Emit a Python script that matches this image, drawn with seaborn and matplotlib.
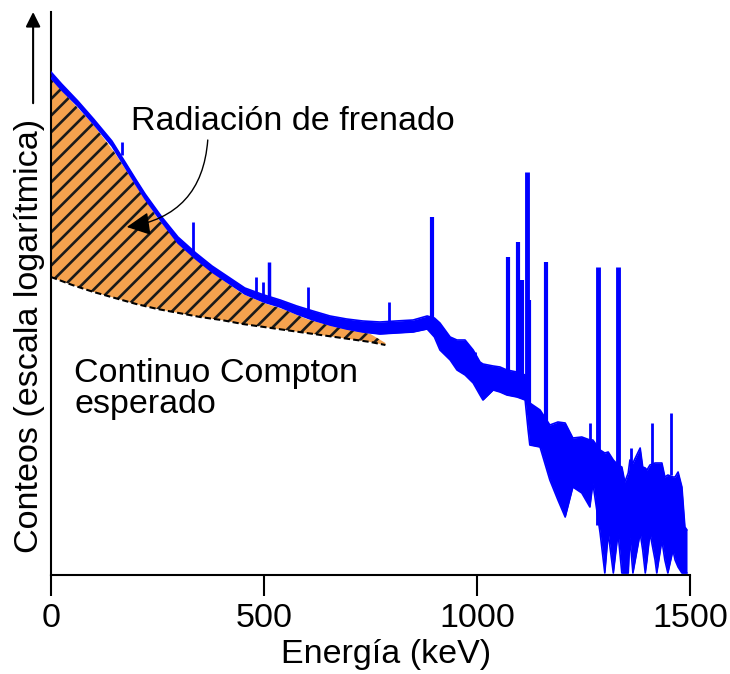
"""
Gamma spectrum sketch: bremsstrahlung above the expected Compton continuum
"""

import matplotlib
matplotlib.use('Agg')
import matplotlib.pyplot as plt
import seaborn as sns

# Continuum band of the measured spectrum (keV, log10 counts in arbitrary units)
energy = [0, 25, 63, 100, 143, 200, 221, 260, 298, 340, 378, 420, 455, 500,
          538, 577, 615, 655, 694, 732, 772, 810, 850, 883, 900, 913, 937,
          953, 972, 991, 1007, 1014, 1038, 1054, 1070, 1094, 1113, 1120,
          1124, 1148, 1171, 1190, 1207, 1225, 1246, 1265, 1272, 1289, 1300,
          1308, 1320, 1331, 1340, 1347, 1355, 1359, 1366, 1383, 1389, 1395,
          1399, 1406, 1418, 1422, 1434, 1441, 1448, 1460, 1465, 1472, 1481,
          1488, 1493]
counts_high = [5.03, 4.91, 4.74, 4.56, 4.34, 3.95, 3.81, 3.58, 3.38, 3.22,
               3.09, 2.97, 2.87, 2.80, 2.75, 2.69, 2.64, 2.59, 2.56, 2.54,
               2.53, 2.54, 2.55, 2.59, 2.57, 2.52, 2.38, 2.35, 2.35, 2.25,
               2.13, 2.11, 2.09, 2.08, 2.05, 2.03, 2.00, 1.80, 1.72, 1.65,
               1.50, 1.53, 1.52, 1.37, 1.38, 1.35, 1.35, 1.25, 1.22, 1.23,
               1.15, 1.10, 1.08, 0.93, 1.02, 1.15, 1.12, 1.27, 1.08, 1.07,
               1.05, 1.10, 1.12, 1.12, 1.12, 0.98, 1.00, 0.98, 0.98, 1.03,
               0.88, 0.48, 0.45]
counts_low = [4.97, 4.85, 4.69, 4.51, 4.29, 3.90, 3.76, 3.53, 3.32, 3.16,
              3.03, 2.91, 2.81, 2.73, 2.68, 2.61, 2.55, 2.50, 2.46, 2.43,
              2.41, 2.42, 2.43, 2.46, 2.38, 2.25, 2.15, 2.05, 2.00, 1.92,
              1.80, 1.75, 1.85, 1.83, 1.80, 1.78, 1.75, 1.45, 1.30, 1.28,
              0.95, 0.75, 0.58, 0.88, 0.82, 0.68, 0.92, 0.42, 0.02, 0.42,
              0.02, 0.42, 0.02, 0.02, 0.02, 0.38, 0.02, 0.42, 0.25, 0.02,
              0.15, 0.42, 0.15, 0.02, 0.35, 0.15, 0.02, 0.25, 0.15, 0.08,
              0.02, 0.02, 0.02]

# Photopeaks
peak_energy = [167, 333, 481, 498, 512, 603, 793, 894, 995, 1073, 1096,
               1106, 1117, 1121, 1162, 1265, 1284, 1331, 1361, 1411, 1455]
peak_top = [4.33, 3.53, 2.98, 2.93, 3.13, 2.88, 2.73, 3.58, 2.23, 3.18,
            3.33, 2.95, 4.03, 2.75, 3.13, 1.52, 3.08, 3.08, 1.27, 1.52, 1.62]
peak_base = [4.20, 3.20, 2.78, 2.78, 2.76, 2.62, 2.50, 2.50, 2.10, 1.85,
             1.85, 1.80, 1.80, 1.60, 1.40, 1.30, 0.50, 0.50, 1.00, 1.00, 1.00]
peak_width = [2, 2, 2, 2, 2.5, 2, 2, 3, 2, 3, 3, 3, 3.5, 3, 3, 2, 3.5, 3.5,
              2, 2, 2]

# Bremsstrahlung region, bounded below by the expected Compton continuum
brems_energy = [0, 50, 100, 150, 200, 250, 300, 350, 400, 450, 500, 550,
                600, 650, 700, 750, 785]
brems_top = [4.96, 4.73, 4.50, 4.22, 3.89, 3.57, 3.31, 3.12, 2.96, 2.81,
             2.72, 2.65, 2.56, 2.50, 2.45, 2.41, 2.32]
compton_expected = [2.98, 2.90, 2.83, 2.77, 2.71, 2.66, 2.62, 2.58, 2.55,
                    2.51, 2.48, 2.45, 2.42, 2.39, 2.36, 2.33, 2.30]

x_ticks = [0, 500, 1000, 1500]


def plot_spectrum(save_path='out.png'):
    """
    Draw the spectrum with the hatched bremsstrahlung area and save it.

    Args:
        save_path: Path to save the plot
    """
    sns.set_theme(style='white')
    plt.rcParams['font.family'] = ['Liberation Sans', 'DejaVu Sans']
    plt.rcParams['hatch.linewidth'] = 1.9
    plt.rcParams['text.color'] = 'black'

    fig = plt.figure(figsize=(7.3, 6.74), dpi=100)
    ax = fig.add_axes([51 / 730, 99 / 674, 639 / 730, 563 / 674])

    # Hatched bremsstrahlung area over the expected Compton continuum
    ax.fill_between(brems_energy, compton_expected, brems_top,
                    facecolor='#f5a24e', edgecolor='#1a1a1a', hatch='//',
                    linewidth=0, zorder=1)
    sns.lineplot(x=brems_energy, y=compton_expected, color='black',
                 linestyle=(0, (3, 1.5)), linewidth=1.5, ax=ax, zorder=2)

    # Measured spectrum
    ax.fill_between(energy, counts_low, counts_high, color='#0000ff',
                    linewidth=0, zorder=3)
    sns.lineplot(x=energy, y=counts_high, color='#0000ff', linewidth=1.2,
                 ax=ax, zorder=3)
    sns.lineplot(x=energy, y=counts_low, color='#0000ff', linewidth=1.2,
                 ax=ax, zorder=3)
    ax.vlines(peak_energy, peak_base, peak_top, color='#0000ff',
              linewidth=peak_width, zorder=3)

    # Labels inside the plot
    ax.text(187, 4.45, 'Radiación de frenado', fontsize=24.5, color='black',
            ha='left', va='baseline', zorder=5)
    ax.annotate('', xy=(178, 3.48), xytext=(368, 4.35),
                arrowprops=dict(arrowstyle='-|>', mutation_scale=36,
                                connectionstyle='arc3,rad=-0.4',
                                color='black', lw=1.0,
                                shrinkA=0, shrinkB=0),
                zorder=5)
    ax.text(53, 1.93, 'Continuo Compton', fontsize=24.5, color='black',
            ha='left', va='baseline')
    ax.text(55, 1.62, 'esperado', fontsize=24.5, color='black',
            ha='left', va='baseline')

    # Axes
    ax.set_xlim(0, 1500)
    ax.set_ylim(0, 5.63)
    ax.set_xticks(x_ticks)
    ax.set_yticks([])
    ax.tick_params(axis='x', bottom=True, direction='out', length=15,
                   width=1.5, color='black', pad=5, labelsize=24.5,
                   labelcolor='black')
    for side in ['top', 'right']:
        ax.spines[side].set_visible(False)
    for side in ['left', 'bottom']:
        ax.spines[side].set_color('black')
        ax.spines[side].set_linewidth(1.5)

    ax.set_xlabel('Energía (keV)', fontsize=24.5, va='center', color='black')
    ax.xaxis.set_label_coords(0.524, -0.142)
    ax.set_ylabel('Conteos (escala logarítmica)', fontsize=24.6, va='center',
                  color='black')
    ax.yaxis.set_label_coords(-0.033, 0.4245)

    # Arrow next to the y axis
    ax.annotate('', xy=(-0.028, 1.0), xytext=(-0.028, 0.838),
                xycoords='axes fraction', annotation_clip=False,
                arrowprops=dict(arrowstyle='-|>', mutation_scale=22,
                                color='black', lw=1.5,
                                shrinkA=0, shrinkB=0))

    fig.savefig(save_path, dpi=100)
    plt.close(fig)


def main():
    plot_spectrum('out.png')


if __name__ == "__main__":
    main()
